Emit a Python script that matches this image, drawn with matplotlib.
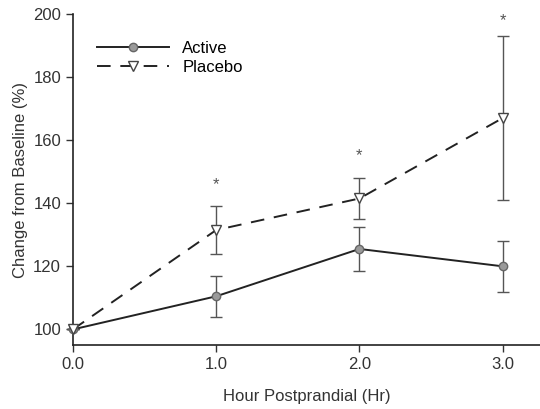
import numpy as np
import matplotlib.pyplot as plt
from matplotlib.lines import Line2D

plt.rcParams["font.family"] = ["Liberation Sans", "DejaVu Sans"]

hours = [0.0, 1.0, 2.0, 3.0]

active = [100, 110.5, 125.5, 120]
active_err = [0, 6.5, 7, 8]

placebo = [100, 131.5, 141.5, 167]
placebo_err = [0, 7.5, 6.5, 26]

star_x = [1.0, 2.0, 3.0]
star_y = [146, 155, 198]

fig = plt.figure(figsize=(5.4, 4.09), dpi=100)
ax = fig.add_axes([0.135, 0.156, 0.865, 0.81])

ink = "#222222"
txt = "#333333"

act_style = dict(color=ink, lw=1.4, marker="o", ms=6, mfc="#9a9a9a", mec="#666666")
pla_style = dict(color=ink, lw=1.4, dashes=(7, 5), marker="v", ms=7,
                 mfc="white", mec="#444444")

ax.errorbar(hours, active, yerr=active_err, ecolor="#555555", elinewidth=1,
            capsize=4, capthick=1, clip_on=False, zorder=3, **act_style)
ax.errorbar(hours, placebo, yerr=placebo_err, ecolor="#555555", elinewidth=1,
            capsize=4, capthick=1, clip_on=False, zorder=3, **pla_style)

for x, y in zip(star_x, star_y):
    ax.text(x, y, "*", ha="center", va="center", fontsize=12, color="#555555")

ax.set_xlim(0, 3.26)
ax.set_ylim(95, 200)
ax.set_xticks(hours)
ax.set_xticklabels(["0.0", "1.0", "2.0", "3.0"])
ax.set_yticks([100, 120, 140, 160, 180, 200])

for s in ["top", "right"]:
    ax.spines[s].set_visible(False)
for s in ["left", "bottom"]:
    ax.spines[s].set_color(ink)
    ax.spines[s].set_linewidth(1.2)

ax.tick_params(labelsize=12, colors=txt, length=5, width=1)

ax.set_xlabel("Hour Postprandial (Hr)", fontsize=12, color=txt, labelpad=12)
ax.set_ylabel("Change from Baseline (%)", fontsize=12, color=txt, labelpad=4)

handles = [Line2D([], [], **act_style), Line2D([], [], **pla_style)]
ax.legend(handles, ["Active", "Placebo"], loc="upper left",
          bbox_to_anchor=(0.02, 0.965), frameon=False, fontsize=12,
          handlelength=4.3, handletextpad=0.8, labelspacing=0.25)

fig.savefig("out.png")
